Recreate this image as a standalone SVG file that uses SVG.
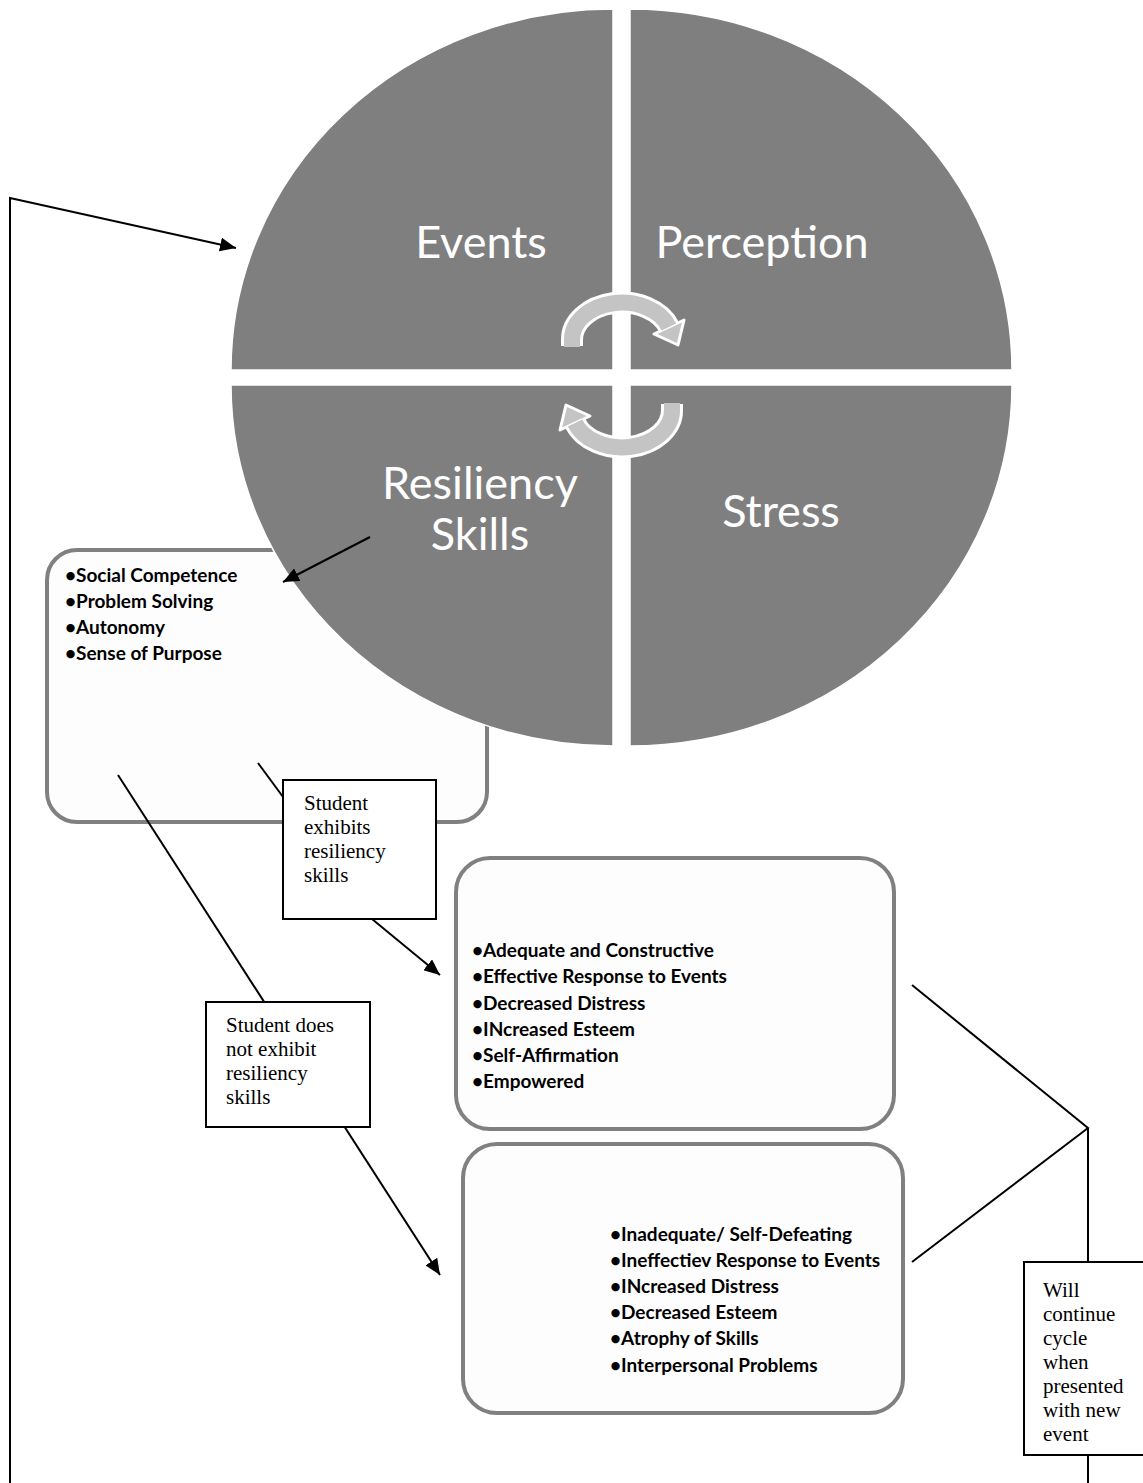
<svg xmlns="http://www.w3.org/2000/svg" width="1143" height="1483" viewBox="0 0 1143 1483">
<style>
.quad{fill:#7f7f7f;stroke:#ffffff;stroke-width:1.5}
.qt{font-family:Lato,"Open Sans",sans-serif;font-size:45px;fill:#ffffff;text-anchor:middle}
.rbox{fill:#fdfdfd;stroke:#808080;stroke-width:4}
.lst{font-family:Lato,"Open Sans",sans-serif;font-size:19px;font-weight:bold;fill:#000000}
.lbl{fill:#ffffff;stroke:#000000;stroke-width:2}
.lt{font-family:"Liberation Serif","Times New Roman",serif;font-size:21px;fill:#000000}
.con{fill:none;stroke:#000000;stroke-width:2}
.arrW{fill:none;stroke:#ffffff;stroke-width:22}
.arrG{fill:none;stroke:#c4c4c4;stroke-width:16}
.arrH{fill:#c4c4c4;stroke:#ffffff;stroke-width:3;stroke-linejoin:round}
</style>
<defs>
<marker id="ah" markerUnits="userSpaceOnUse" markerWidth="16" markerHeight="14" refX="16" refY="7" orient="auto">
<path d="M0,0 L16,7 L0,14 Z" fill="#000000"/>
</marker>
<g id="cyc">
<path class="arrW" d="M572,346 L572,340 A50,37 0 0 1 669,327"/>
<polygon class="arrH" points="684,320 654,334 678,345"/>
<path class="arrG" d="M572,347 L572,340 A50,37 0 0 1 669,327"/>
</g>
</defs>
<rect width="1143" height="1483" fill="#ffffff"/>

<g id="resiliency-box">
<rect class="rbox" x="47" y="550" width="440" height="272" rx="30"/>
</g>

<g id="cycle-circle">
<g id="events"><path class="quad" d="M613,370 L231,370 A382,361 0 0 1 613,9 Z"/><text class="qt" x="481" y="258">Events</text></g>
<g id="perception"><path class="quad" d="M630,370 L630,9 A382,361 0 0 1 1012,370 Z"/><text class="qt" x="762" y="258">Perception</text></g>
<g id="stress"><path class="quad" d="M630,385 L1012,385 A382,361 0 0 1 630,746 Z"/><text class="qt" x="781" y="527">Stress</text></g>
<g id="resiliency-skills"><path class="quad" d="M613,385 L613,746 A382,361 0 0 1 231,385 Z"/><text class="qt" x="480" y="499">Resiliency</text><text class="qt" x="480" y="550">Skills</text></g>
<g id="cycle-arrows">
<use href="#cyc"/>
<use href="#cyc" transform="rotate(180 622 375)"/>
</g>
</g>

<g id="resiliency-list">
<text class="lst" x="65" y="582">•Social Competence</text>
<text class="lst" x="65" y="608">•Problem Solving</text>
<text class="lst" x="65" y="634">•Autonomy</text>
<text class="lst" x="65" y="660">•Sense of Purpose</text>
</g>

<g id="positive-box">
<rect class="rbox" x="456" y="858" width="438" height="271" rx="34"/>
<text class="lst" x="472" y="957">•Adequate and Constructive</text>
<text class="lst" x="472" y="983">•Effective Response to Events</text>
<text class="lst" x="472" y="1010">•Decreased Distress</text>
<text class="lst" x="472" y="1036">•INcreased Esteem</text>
<text class="lst" x="472" y="1062">•Self-Affirmation</text>
<text class="lst" x="472" y="1088">•Empowered</text>
</g>

<g id="negative-box">
<rect class="rbox" x="463" y="1144" width="440" height="269" rx="34"/>
<text class="lst" x="610" y="1241">•Inadequate/ Self-Defeating</text>
<text class="lst" x="610" y="1267">•Ineffectiev Response to Events</text>
<text class="lst" x="610" y="1293">•INcreased Distress</text>
<text class="lst" x="610" y="1319">•Decreased Esteem</text>
<text class="lst" x="610" y="1345">•Atrophy of Skills</text>
<text class="lst" x="610" y="1372">•Interpersonal Problems</text>
</g>

<g id="connectors">
<polyline class="con" points="10,1483 10,198 236,248" marker-end="url(#ah)"/>
<line class="con" x1="370" y1="537" x2="283" y2="582" marker-end="url(#ah)"/>
<line class="con" x1="258" y1="763" x2="300" y2="820"/>
<line class="con" x1="372" y1="919" x2="440" y2="975" marker-end="url(#ah)"/>
<line class="con" x1="118" y1="775" x2="440" y2="1275" marker-end="url(#ah)"/>
<polyline class="con" points="912,985 1088,1128 912,1262"/>
<line class="con" x1="1088" y1="1128" x2="1088" y2="1262"/>
<line class="con" x1="1088" y1="1455" x2="1088" y2="1483"/>
</g>

<g id="label-exhibits">
<rect class="lbl" x="283" y="780" width="153" height="139"/>
<text class="lt" x="304" y="810">Student</text>
<text class="lt" x="304" y="834">exhibits</text>
<text class="lt" x="304" y="858">resiliency</text>
<text class="lt" x="304" y="882">skills</text>
</g>

<g id="label-not-exhibits">
<rect class="lbl" x="206" y="1002" width="164" height="125"/>
<text class="lt" x="226" y="1032">Student does</text>
<text class="lt" x="226" y="1056">not exhibit</text>
<text class="lt" x="226" y="1080">resiliency</text>
<text class="lt" x="226" y="1104">skills</text>
</g>

<g id="label-continue">
<rect class="lbl" x="1024" y="1262" width="125" height="193"/>
<text class="lt" x="1043" y="1297">Will</text>
<text class="lt" x="1043" y="1321">continue</text>
<text class="lt" x="1043" y="1345">cycle</text>
<text class="lt" x="1043" y="1369">when</text>
<text class="lt" x="1043" y="1393">presented</text>
<text class="lt" x="1043" y="1417">with new</text>
<text class="lt" x="1043" y="1441">event</text>
</g>
</svg>
